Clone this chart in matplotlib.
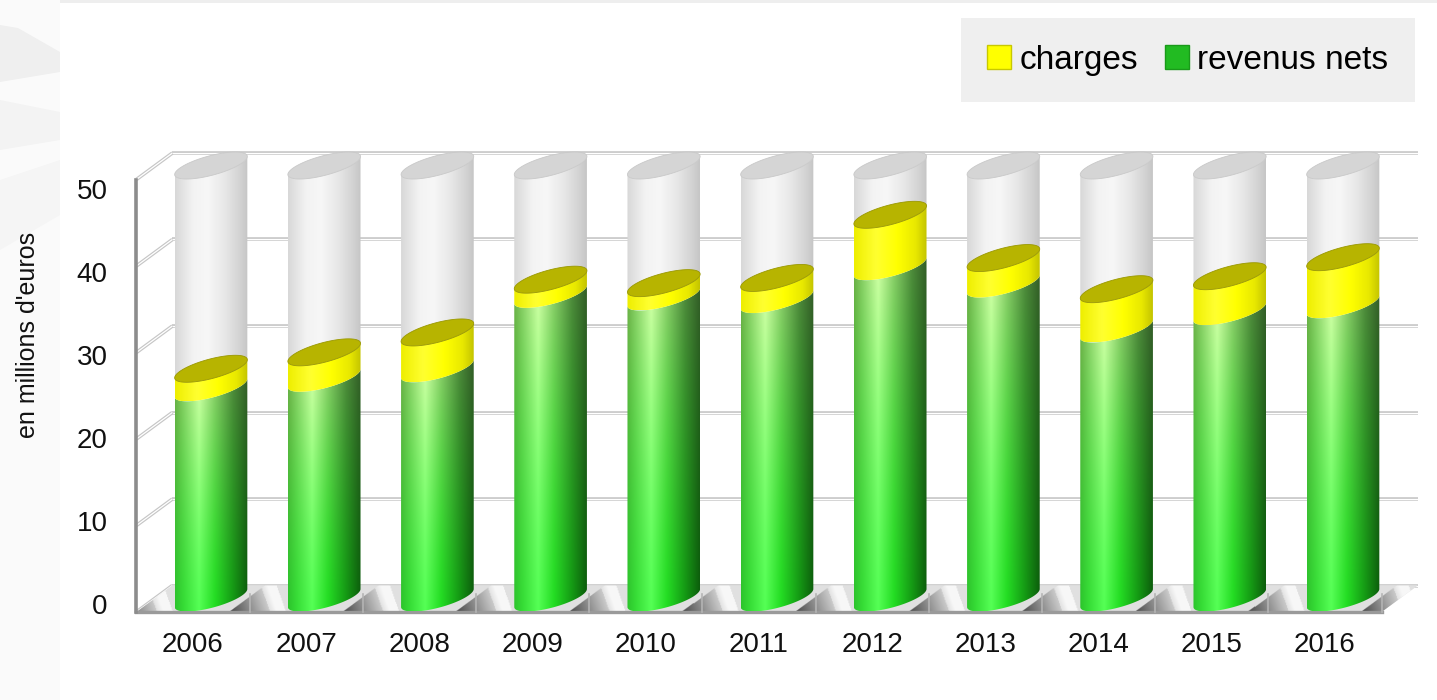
import numpy as np
import matplotlib.pyplot as plt
from matplotlib.patches import Polygon, Patch, Rectangle
from matplotlib.colors import to_rgb

years = ['2006', '2007', '2008', '2009', '2010', '2011', '2012', '2013', '2014', '2015', '2016']
revenus_nets = [24.3, 25.4, 26.5, 35.1, 34.8, 34.5, 38.3, 36.3, 31.1, 33.1, 33.9]
charges = [2.2, 3.0, 4.2, 1.7, 1.6, 2.5, 6.0, 3.0, 4.6, 4.1, 5.5]
y_ticks = [0, 10, 20, 30, 40, 50]
y_max = 50

plt.rcParams['font.family'] = ['Liberation Sans', 'DejaVu Sans']

W, H = 1437, 700
fig = plt.figure(figsize=(W / 100, H / 100), dpi=100, facecolor='white')
ax = fig.add_axes([0, 0, 1, 1])

# pixel scale of the data axes
sx = 113.2   # px per category
sy = 8.65    # px per million
x_org, y_org = 211, 102
ax.set_xlim(-x_org / sx, (W - x_org) / sx)
ax.set_ylim(-y_org / sy, (H - y_org) / sy)
ax.axis('off')

# oblique depth: front and back planes of the box relative to the bar centres
dxf, dyf = -18 / sx, -14 / sy
dxb, dyb = 18 / sx, 12.5 / sy
x_left, x_right = -0.5, len(years) - 0.5

# cylinder cross-section in px: radius, x-shear and squash of the depth axis
rad, shear, squash = 27.0, 0.9, 0.5
t0 = np.arctan(shear)


def px2fig(x, y):
    return x / W, 1 - y / H


def rim(cx, v, t):
    x = cx + rad * (np.cos(t) + shear * np.sin(t)) / sx
    y = v + rad * squash * np.sin(t) / sy
    return x, y


def shade(stops, n=120):
    pos = [s[0] for s in stops]
    cols = np.array([to_rgb(s[1]) for s in stops])
    u = np.linspace(0, 1, n)
    return np.column_stack([np.interp(u, pos, cols[:, k]) for k in range(3)])


def body(cx, v0, v1, low, high, z):
    t = np.linspace(t0 + np.pi, t0 + 2 * np.pi, 80)
    xb, yb = rim(cx, v0, t)
    xt, yt = rim(cx, v1, t[::-1])
    verts = np.column_stack([np.r_[xb, xt], np.r_[yb, yt]])
    clip = Polygon(verts, closed=True, facecolor='none', edgecolor='none',
                   transform=ax.transData)
    ax.add_patch(clip)
    lo, hi = shade(low), shade(high)
    u = np.linspace(0, 1, 100)[:, None, None] ** 1.3
    img = lo[None] * (1 - u) + hi[None] * u
    ext = [verts[:, 0].min(), verts[:, 0].max(), verts[:, 1].min(), verts[:, 1].max()]
    im = ax.imshow(img, extent=ext, origin='lower', aspect='auto',
                   interpolation='bilinear', zorder=z)
    im.set_clip_path(clip)


def cap(cx, v, color, edge, z):
    t = np.linspace(0, 2 * np.pi, 120)
    x, y = rim(cx, v, t)
    ax.add_patch(Polygon(np.column_stack([x, y]), closed=True, facecolor=color,
                         edgecolor=edge, lw=0.6, zorder=z))


green_low = [(0, '#2cc42c'), (0.12, '#36dd36'), (0.33, '#55ff55'), (0.55, '#22dd22'),
             (0.8, '#139a13'), (1, '#0b5e0b')]
green_high = [(0, '#6fb048'), (0.12, '#8fd06a'), (0.33, '#d2ffa6'), (0.55, '#8ccc6a'),
              (0.8, '#4f8a3c'), (1, '#345f28')]
yellow = [(0, '#eeee00'), (0.3, '#ffff30'), (0.6, '#ffff00'), (0.85, '#e8e800'), (1, '#c4c400')]
gray = [(0, '#d8d8d8'), (0.25, '#f3f3f3'), (0.45, '#f7f7f7'), (0.7, '#e6e6e6'),
        (0.9, '#d2d2d2'), (1, '#c6c6c6')]

# faint background strip on the left
fig.add_artist(Rectangle(px2fig(0, 700), 60 / W, 1, transform=fig.transFigure,
                         facecolor='#fafafa', edgecolor='none', zorder=0))
for pts, c in [([(0, 25), (18, 28), (60, 52), (60, 72), (0, 82)], '#efefef'),
               ([(0, 100), (60, 112), (60, 140), (0, 150)], '#f3f3f3'),
               ([(0, 180), (60, 160), (60, 215), (0, 250)], '#f5f5f5'),
               ([(60, 0), (1437, 0), (1437, 3), (60, 3)], '#eeeeee')]:
    fig.add_artist(Polygon([px2fig(*p) for p in pts], closed=True, transform=fig.transFigure,
                           facecolor=c, edgecolor='none', zorder=0))


# back and side wall rulings
def ruled(xs, ys, z=1):
    ax.plot(xs, ys, color='#c6c6c6', lw=2.6, solid_capstyle='butt', zorder=z)
    ax.plot(xs, ys, color='white', lw=0.9, solid_capstyle='butt', zorder=z)


for v in y_ticks:
    ruled([x_left + dxb, x_right + dxb], [v + dyb, v + dyb])
    ruled([x_left + dxf, x_left + dxb], [v + dyf, v + dyb])

# floor with the cast shadows
floor = [(x_left + dxf, dyf), (x_right + dxf, dyf), (x_right + dxb, dyb), (x_left + dxb, dyb)]
floor_patch = Polygon(floor, closed=True, facecolor='#e4e4e4', edgecolor='none', zorder=2)
ax.add_patch(floor_patch)
fx = np.linspace(x_left + dxf, x_right + dxb, 1400)
fy = np.linspace(dyf, dyb, 40)
FX, FY = np.meshgrid(fx, fy)
f = (FY - dyf) / (dyb - dyf)
xc = FX - (dxf + f * (dxb - dxf))
hw = rad * np.sqrt(1 + shear ** 2) / sx
q = (xc + 0.5 - (0.5 + hw)) % 1
s = q + 0.4 * f
g = 0.88 - 0.6 * np.clip(1 - s / 0.42, 0, 1)
g = np.where((s > 0.36) & (s < 0.5), np.minimum(g + 0.09, 0.99), g)
fim = ax.imshow(np.dstack([g, g, g]), extent=[fx[0], fx[-1], fy[0], fy[-1]], origin='lower',
                aspect='auto', interpolation='bilinear', zorder=2)
fim.set_clip_path(floor_patch)

ax.plot([x_left + dxf, x_right + dxf], [dyf, dyf], color='#9a9a9a', lw=2.4, zorder=3)
for k in range(len(years) + 1):
    ax.plot([x_left + k + dxf] * 2, [dyf, dyf + 18 / sy], color='#b4b4b4', lw=1.2, zorder=3)
ax.plot([x_left + dxf] * 2, [dyf, y_max + dyf], color='#8c8c8c', lw=2.6, zorder=3)

# cylinders: grey track, green net revenue, yellow charges on top
for i, (r, c) in enumerate(zip(revenus_nets, charges)):
    top = r + c
    body(i, top, y_max, gray, gray, 5)
    cap(i, y_max, '#d5d5d5', '#c8c8c8', 6)
    body(i, 0, r, green_low, green_high, 7)
    body(i, r, top, yellow, yellow, 8)
    cap(i, top, '#b7b400', '#9a9800', 9)

# tick labels; the value labels sit on the front face, slightly compressed
for v in y_ticks:
    ax.text(x_left + dxf - 29 / sx, dyf + 5 / sy + 0.96 * v, str(v), ha='right', va='center',
            fontsize=20, color='#111111')
for i, yr in enumerate(years):
    ax.text(i + dxf, dyf - 33 / sy, yr, ha='center', va='center', fontsize=20, color='#111111')

fig.text(*px2fig(28, 335), "en millions d'euros", rotation=90, ha='center', va='center',
         fontsize=18, color='#111111')

handles = [Patch(facecolor='#ffff00', edgecolor='#c8c800', label='charges'),
           Patch(facecolor='#22bb22', edgecolor='#1a9a1a', label='revenus nets')]
leg = ax.legend(handles=handles, loc='upper right', bbox_to_anchor=px2fig(1415, 18),
                bbox_transform=fig.transFigure, ncol=2, frameon=True, fancybox=False,
                facecolor='#efefef', edgecolor='none', framealpha=1,
                prop={'family': ['Liberation Sans', 'DejaVu Sans'], 'size': 24},
                handlelength=0.72, handleheight=0.7, handletextpad=0.25,
                columnspacing=0.8, borderpad=0.8, borderaxespad=0)
leg.set_zorder(20)

ax.set_xlim(-x_org / sx, (W - x_org) / sx)
ax.set_ylim(-y_org / sy, (H - y_org) / sy)
fig.savefig('out.png', dpi=100, facecolor='white')
